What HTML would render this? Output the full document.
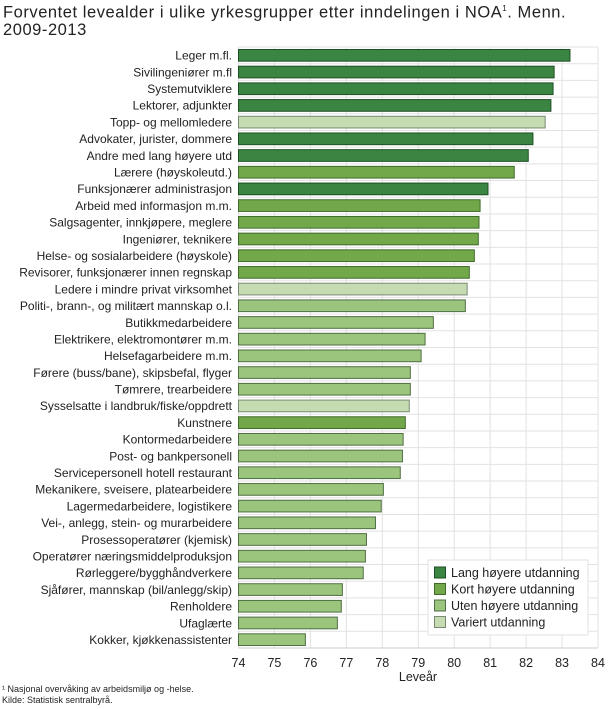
<!DOCTYPE html>
<html><head><meta charset="utf-8"><style>
body{margin:0;background:#fff;font-family:"Liberation Sans","DejaVu Sans",sans-serif;}
#wrap{position:relative;width:610px;height:709px;overflow:hidden}
#title{position:absolute;left:3px;top:0px;font-size:16.5px;letter-spacing:0.55px;line-height:17px;color:#222;width:607px}
svg{position:absolute;left:0;top:0}
</style></head><body>
<div id="wrap">
<div id="title">Forventet levealder i ulike yrkesgrupper etter inndelingen i NOA<sup style="font-size:8px">1</sup>. Menn.<br>2009-2013</div>
<svg id="chart" width="610" height="709"></svg>
</div>
<script>
const categories=["Leger m.fl.","Sivilingeniører m.fl","Systemutviklere","Lektorer, adjunkter","Topp- og mellomledere","Advokater, jurister, dommere","Andre med lang høyere utd","Lærere (høyskoleutd.)","Funksjonærer administrasjon","Arbeid med informasjon m.m.","Salgsagenter, innkjøpere, meglere","Ingeniører, teknikere","Helse- og sosialarbeidere (høyskole)","Revisorer, funksjonærer innen regnskap","Ledere i mindre privat virksomhet","Politi-, brann-, og militært mannskap o.l.","Butikkmedarbeidere","Elektrikere, elektromontører m.m.","Helsefagarbeidere m.m.","Førere (buss/bane), skipsbefal, flyger","Tømrere, trearbeidere","Sysselsatte i landbruk/fiske/oppdrett","Kunstnere","Kontormedarbeidere","Post- og bankpersonell","Servicepersonell hotell restaurant","Mekanikere, sveisere, platearbeidere","Lagermedarbeidere, logistikere","Vei-, anlegg, stein- og murarbeidere","Prosessoperatører (kjemisk)","Operatører næringsmiddelproduksjon","Rørleggere/bygghåndverkere","Sjåfører, mannskap (bil/anlegg/skip)","Renholdere","Ufaglærte","Kokker, kjøkkenassistenter"];
const values=[83.22,82.78,82.75,82.69,82.53,82.19,82.06,81.67,80.94,80.72,80.69,80.67,80.56,80.42,80.36,80.31,79.42,79.19,79.08,78.78,78.78,78.75,78.64,78.58,78.56,78.5,78.03,77.97,77.81,77.56,77.53,77.47,76.89,76.86,76.75,75.86];
const groups=[0,0,0,0,3,0,0,1,0,1,1,1,1,1,3,2,2,2,2,2,2,3,1,2,2,2,2,2,2,2,2,2,2,2,2,2];
const groupNames=["Lang høyere utdanning","Kort høyere utdanning","Uten høyere utdanning","Variert utdanning"];
const ticks=[74,75,76,77,78,79,80,81,82,83,84];
const fills=["#3b8543","#73a84a","#9bc47c","#c5dcb3"];
const strokes=["#1f4f25","#3f6a2a","#4f6f44","#7a8a72"];
const X0=238.5,X1=598,Y0=47,Y1=648,xmin=74,xmax=84;
const x=v=>X0+(v-xmin)/(xmax-xmin)*(X1-X0);
const rowH=(Y1-Y0)/categories.length;
const y=i=>Y0+i*rowH;
const svg=document.getElementById('chart');
const NS="http://www.w3.org/2000/svg";
function mk(t,a){const e=document.createElementNS(NS,t);for(const k in a)e.setAttribute(k,a[k]);svg.appendChild(e);return e;}
for(let i=0;i<=categories.length;i++){const l=mk('line',{x1:X0,x2:X1,y1:y(i),y2:y(i),stroke:'#e2e2e2','stroke-width':1});

}
ticks.forEach(t=>{const l=mk('line',{x1:x(t),x2:x(t),y1:Y0,y2:Y1,stroke:'#e2e2e2','stroke-width':1});


const tx=mk('text',{x:x(t),y:Y1+19,'text-anchor':'middle','font-size':12.5,fill:'#222'});tx.textContent=t;

});
categories.forEach((c,i)=>{
const r=mk('rect',{x:X0,y:y(i)+2.5,width:x(values[i])-X0,height:rowH-5,fill:fills[groups[i]],stroke:strokes[groups[i]],'stroke-width':1});


const t=mk('text',{x:232,y:y(i)+rowH/2+4.3,'text-anchor':'end','font-size':12,fill:'#222'});t.textContent=c;

});
mk('line',{x1:X0,x2:X1,y1:Y1,y2:Y1,stroke:'#ccc'});
const xt=mk('text',{x:418,y:Y1+33,'text-anchor':'middle','font-size':12.5,fill:'#222'});xt.textContent="Leveår";


const lg=mk('rect',{x:428,y:560,width:160,height:75,fill:'#fff',stroke:'#e2e2e2'});


groupNames.forEach((g,i)=>{
const s=mk('rect',{x:434.5,y:567+i*16.5,width:11,height:11,fill:fills[i],stroke:strokes[i]});


const t=mk('text',{x:451,y:577+i*16.5,'font-size':12.5,fill:'#222'});t.textContent=g;

});
const f1=mk('text',{x:2,y:692,'font-size':9,fill:'#222'});f1.textContent="¹ Nasjonal overvåking av arbeidsmiljø og -helse.";


const f2=mk('text',{x:2,y:703,'font-size':9,fill:'#222'});f2.textContent="Kilde: Statistisk sentralbyrå.";


</script>
</body></html>
